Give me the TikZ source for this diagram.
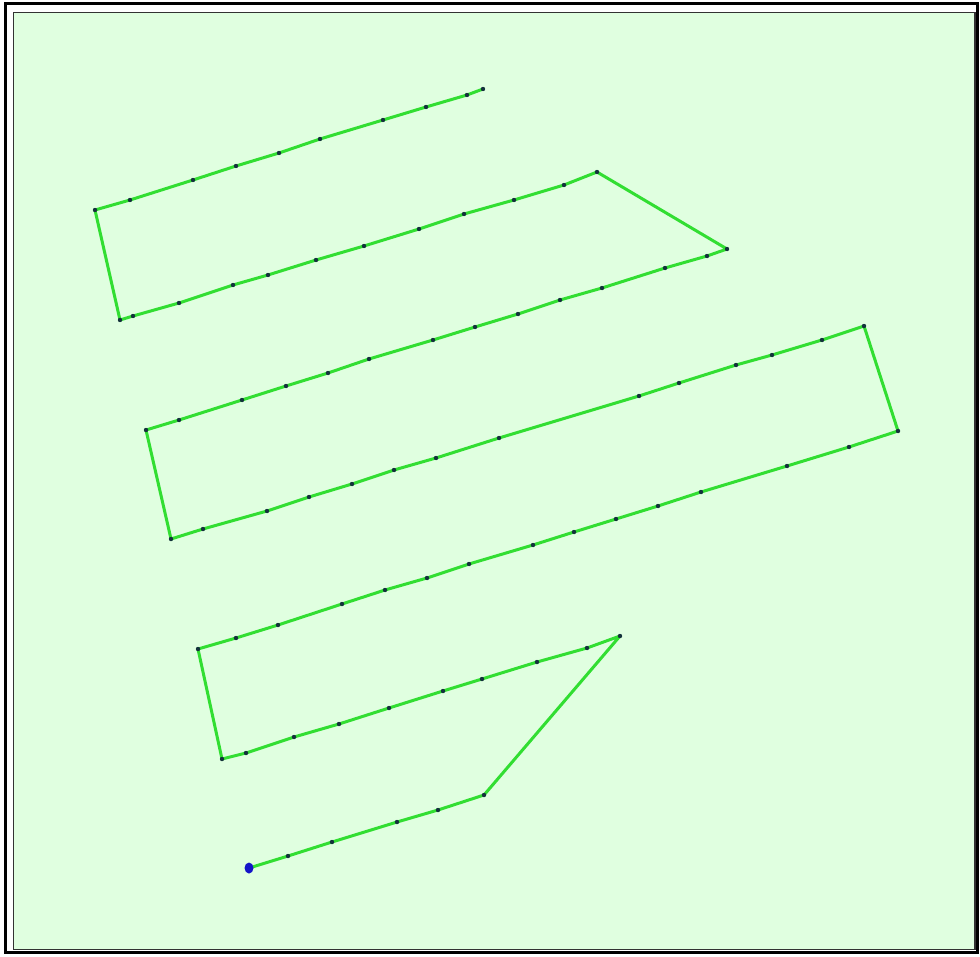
\documentclass[tikz,border=0pt]{standalone}
\begin{document}
\begin{tikzpicture}[x=1pt,y=-1pt]
\definecolor{bggreen}{RGB}{224,255,224}
\definecolor{routegreen}{RGB}{50,222,50}
\definecolor{wpdot}{RGB}{20,50,60}
\definecolor{startblue}{RGB}{20,20,200}
\tikzset{
  route/.style={draw=routegreen,line width=3pt,line join=round,line cap=round},
  wp/.style={fill=wpdot},
  startpt/.style={fill=startblue},
  outerframe/.style={draw=black,line width=3pt},
  innerframe/.style={draw=black!80,line width=1.5pt,fill=bggreen}
}
\useasboundingbox (0,0) rectangle (980,956);
\fill[white] (0,0) rectangle (980,956);
\draw[outerframe] (5,3.5) rectangle (977.5,952.5);
\draw[innerframe] (13.5,12.5) rectangle (975,949.5);
% waypoints
\coordinate (s0) at (249,868);
\coordinate (a1) at (288,856);
\coordinate (a2) at (332,842);
\coordinate (a3) at (397,822);
\coordinate (a4) at (438,810);
\coordinate (a5) at (484,795);
\coordinate (a6) at (620,636);
\coordinate (b1) at (587,648);
\coordinate (b2) at (537,662);
\coordinate (b3) at (482,679);
\coordinate (b4) at (443,691);
\coordinate (b5) at (389,708);
\coordinate (b6) at (339,724);
\coordinate (b7) at (294,737);
\coordinate (b8) at (246,753);
\coordinate (b9) at (222,759);
\coordinate (c0) at (198,649);
\coordinate (c1) at (236,638);
\coordinate (c2) at (278,625);
\coordinate (c3) at (342,604);
\coordinate (c4) at (385,590);
\coordinate (c5) at (427,578);
\coordinate (c6) at (469,564);
\coordinate (c7) at (533,545);
\coordinate (c8) at (574,532);
\coordinate (c9) at (616,519);
\coordinate (c10) at (658,506);
\coordinate (c11) at (701,492);
\coordinate (c12) at (787,466);
\coordinate (c13) at (849,447);
\coordinate (c14) at (898,431);
\coordinate (d0) at (864,326);
\coordinate (d1) at (822,340);
\coordinate (d2) at (772,355);
\coordinate (d3) at (736,365);
\coordinate (d4) at (679,383);
\coordinate (d5) at (639,396);
\coordinate (d6) at (499,438);
\coordinate (d7) at (436,458);
\coordinate (d8) at (394,470);
\coordinate (d9) at (352,484);
\coordinate (d10) at (309,497);
\coordinate (d11) at (267,511);
\coordinate (d12) at (203,529);
\coordinate (d13) at (171,539);
\coordinate (e0) at (146,430);
\coordinate (e1) at (179,420);
\coordinate (e2) at (242,400);
\coordinate (e3) at (286,386);
\coordinate (e4) at (328,373);
\coordinate (e5) at (369,359);
\coordinate (e6) at (433,340);
\coordinate (e7) at (475,327);
\coordinate (e8) at (518,314);
\coordinate (e9) at (560,300);
\coordinate (e10) at (602,288);
\coordinate (e11) at (665,268);
\coordinate (e12) at (707,256);
\coordinate (e13) at (727,249);
\coordinate (f0) at (597,172);
\coordinate (f1) at (564,185);
\coordinate (f2) at (514,200);
\coordinate (f3) at (464,214);
\coordinate (f4) at (419,229);
\coordinate (f5) at (364,246);
\coordinate (f6) at (316,260);
\coordinate (f7) at (268,275);
\coordinate (f8) at (233,285);
\coordinate (f9) at (179,303);
\coordinate (f10) at (133,316);
\coordinate (f11) at (120,320);
\coordinate (g0) at (95,210);
\coordinate (g1) at (130,200);
\coordinate (g2) at (193,180);
\coordinate (g3) at (236,166);
\coordinate (g4) at (279,153);
\coordinate (g5) at (320,139);
\coordinate (g6) at (383,120);
\coordinate (g7) at (426,107);
\coordinate (g8) at (467,95);
\coordinate (g9) at (483,89);
% route
\draw[route] (s0) -- (a1) -- (a2) -- (a3) -- (a4) -- (a5) -- (a6)
  -- (b1) -- (b2) -- (b3) -- (b4) -- (b5) -- (b6) -- (b7) -- (b8) -- (b9)
  -- (c0) -- (c1) -- (c2) -- (c3) -- (c4) -- (c5) -- (c6) -- (c7) -- (c8) -- (c9) -- (c10) -- (c11) -- (c12) -- (c13) -- (c14)
  -- (d0) -- (d1) -- (d2) -- (d3) -- (d4) -- (d5) -- (d6) -- (d7) -- (d8) -- (d9) -- (d10) -- (d11) -- (d12) -- (d13)
  -- (e0) -- (e1) -- (e2) -- (e3) -- (e4) -- (e5) -- (e6) -- (e7) -- (e8) -- (e9) -- (e10) -- (e11) -- (e12) -- (e13)
  -- (f0) -- (f1) -- (f2) -- (f3) -- (f4) -- (f5) -- (f6) -- (f7) -- (f8) -- (f9) -- (f10) -- (f11)
  -- (g0) -- (g1) -- (g2) -- (g3) -- (g4) -- (g5) -- (g6) -- (g7) -- (g8) -- (g9);
% waypoint dots
\foreach \p in {a1,a2,a3,a4,a5,a6,b1,b2,b3,b4,b5,b6,b7,b8,b9,
  c0,c1,c2,c3,c4,c5,c6,c7,c8,c9,c10,c11,c12,c13,c14,
  d0,d1,d2,d3,d4,d5,d6,d7,d8,d9,d10,d11,d12,d13,
  e0,e1,e2,e3,e4,e5,e6,e7,e8,e9,e10,e11,e12,e13,
  f0,f1,f2,f3,f4,f5,f6,f7,f8,f9,f10,f11,
  g0,g1,g2,g3,g4,g5,g6,g7,g8,g9}
  \fill[wp] (\p) circle (2.2);
\fill[startpt] (s0) ellipse (4.5 and 5.5);
\end{tikzpicture}
\end{document}
